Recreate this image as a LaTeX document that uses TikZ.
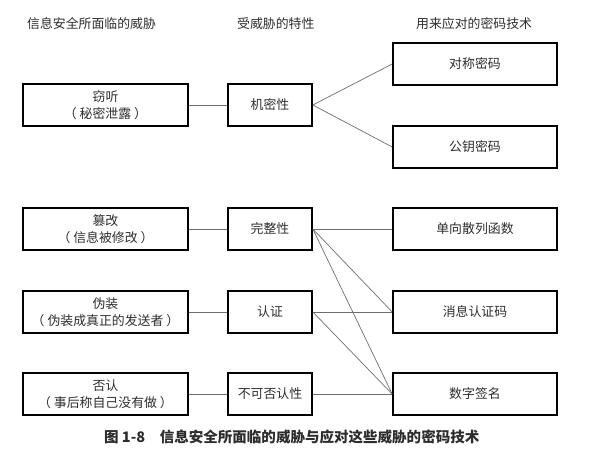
\documentclass[tikz,border=0pt]{standalone}
\usepackage{fontspec}
\setmainfont{Noto Sans CJK SC}
\usetikzlibrary{positioning}
\definecolor{inkgray}{RGB}{45,45,45}
\definecolor{linegray}{RGB}{110,110,110}

\begin{document}
\begin{tikzpicture}[x=0.03cm, y=-0.03cm, font=\fontsize{11}{14.5}\selectfont, text=inkgray]
  \tikzset{
    box/.style={draw=black, line width=1.4pt, minimum height=1.26cm, inner sep=0pt, align=center},
    threat/.style={box, minimum width=4.95cm},
    prop/.style={box, minimum width=2.52cm},
    tech/.style={box, minimum width=4.92cm},
    link/.style={draw=linegray, line width=0.6pt}
  }
  \useasboundingbox (0,0) rectangle (602,455);

  % column headings
  \node[anchor=west] (hThreat) at (23,24) {信息安全所面临的威胁};
  \node[anchor=west] (hProp) at (233,24) {受威胁的特性};
  \node[anchor=west] (hTech) at (412,24) {用来应对的密码技术};

  % threats
  \node[threat] (eaves) at (105.5,105) {窃听\\（ 秘密泄露 ）};
  \node[threat] (tamper) at (105.5,229) {篡改\\（ 信息被修改 ）};
  \node[threat] (spoof) at (105.5,312) {伪装\\（ 伪装成真正的发送者 ）};
  \node[threat] (deny) at (105.5,394) {否认\\（ 事后称自己没有做 ）};

  % properties
  \node[prop] (conf) at (270,105) {机密性};
  \node[prop] (integ) at (270,229) {完整性};
  \node[prop] (auth) at (270,312) {认证};
  \node[prop] (nonrep) at (270,394) {不可否认性};

  % techniques
  \node[tech] (sym) at (475,64) {对称密码};
  \node[tech] (pub) at (475,147) {公钥密码};
  \node[tech] (hash) at (475,229) {单向散列函数};
  \node[tech] (mac) at (475,312) {消息认证码};
  \node[tech] (sig) at (475,394) {数字签名};

  % threat -> property
  \draw[link] (eaves) -- (conf);
  \draw[link] (tamper) -- (integ);
  \draw[link] (spoof) -- (auth);
  \draw[link] (deny) -- (nonrep);

  % property -> technique
  \draw[link] (conf.east) -- (sym.west);
  \draw[link] (conf.east) -- (pub.west);
  \draw[link] (integ.east) -- (hash.west);
  \draw[link] (integ.east) -- (mac.west);
  \draw[link] (integ.east) -- (sig.west);
  \draw[link] (auth.east) -- (mac.west);
  \draw[link] (auth.east) -- (sig.west);
  \draw[link] (nonrep.east) -- (sig.west);

  % caption
  \node[font=\fontsize{12.4}{15}\selectfont\bfseries, anchor=west] (cap) at (100,437) {图 1-8\hspace{1em}信息安全所面临的威胁与应对这些威胁的密码技术};
\end{tikzpicture}
\end{document}
